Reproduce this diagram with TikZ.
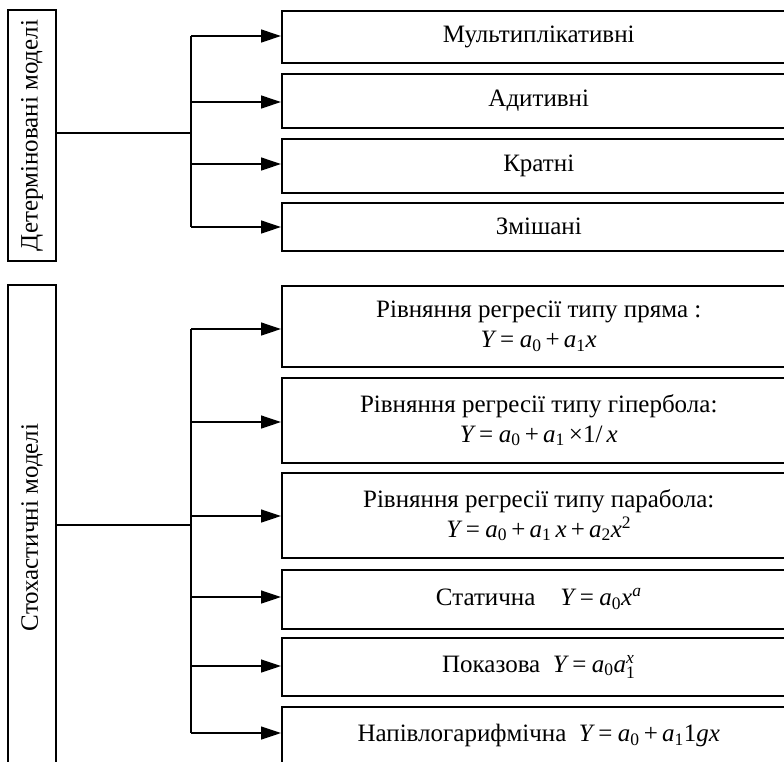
\documentclass[tikz,border=0pt]{standalone}
\usepackage{amsmath}
\usepackage{fontspec}
\setmainfont{Liberation Serif}
\usetikzlibrary{arrows.meta}

% formula pieces set in the text font
\newcommand\tv[1]{\text{\itshape #1}}
\newcommand\tn[1]{\text{\upshape #1}}
\newcommand\vY{\tv{Y}}
\newcommand\va{\tv{a}}
\newcommand\vx{\tv{x}}
\newcommand\eqs{\mathrel{\text{=}}}
\newcommand\pls{\mathbin{\text{+}}}
\newcommand\bodyfont{\fontsize{25}{30}\selectfont\thickmuskip=4mu\medmuskip=3mu}

\begin{document}
\begin{tikzpicture}[x=1pt,y=-1pt,
  framebox/.style={draw, line width=1.5pt, inner sep=0pt},
  leaf/.style={framebox, anchor=north west, minimum width=514pt,
    align=center, font=\bodyfont},
  link/.style={line width=1.3pt},
  arr/.style={link, -{Triangle[length=20pt,width=13pt]}}]
\useasboundingbox (0,0) rectangle (784,761);
\clip (0,0) rectangle (784,761);

% ---------- deterministic models ----------
\node[framebox, minimum width=48pt, minimum height=251pt] (det) at (32,135.5) {};
\node[rotate=90, font=\bodyfont] (detlabel) at (det.center) {Детерміновані моделі};

\node[leaf, minimum height=52pt] (d1) at (281,10)  {Мультиплікативні};
\node[leaf, minimum height=54pt] (d2) at (281,73)  {Адитивні};
\node[leaf, minimum height=54pt] (d3) at (281,138) {Кратні};
\node[leaf, minimum height=48pt] (d4) at (281,202) {Змішані};

\coordinate (dj) at (191,133);
\coordinate (da1) at (191,36);
\coordinate (da2) at (191,102);
\coordinate (da3) at (191,164);
\coordinate (da4) at (191,227);

\draw[link] (det.east |- dj) -- (dj);
\draw[link] (da1) -- (da4);
\foreach \i in {1,...,4}
  \draw[arr] (da\i) -- (da\i -| d\i.west);

% ---------- stochastic models ----------
\node[framebox, minimum width=48pt, minimum height=485pt] (sto) at (32,527.5) {};
\node[rotate=90, font=\bodyfont] (stolabel) at (sto.center) {Стохастичні моделі};

\node[leaf, minimum height=81pt] (s1) at (281,285)
  {Рівняння регресії типу пряма :\\
   $\vY \eqs \va_{\tn{0}} \pls \va_{\tn{1}}\vx$};
\node[leaf, minimum height=85pt] (s2) at (281,377)
  {Рівняння регресії типу гіпербола:\\
   $\vY \eqs \va_{\tn{0}} \pls \va_{\tn{1}}\,\text{×}\tn{1/}\,\vx$};
\node[leaf, minimum height=85pt] (s3) at (281,472)
  {Рівняння регресії типу парабола:\\
   $\vY \eqs \va_{\tn{0}} \pls \va_{\tn{1}}\,\vx \pls \va_{\tn{2}}\vx^{\tn{2}}$};
\node[leaf, minimum height=59pt] (s4) at (281,569)
  {Статична\quad $\vY \eqs \va_{\tn{0}}\vx^{\tv{a}}$};
\node[leaf, minimum height=58pt] (s5) at (281,637)
  {Показова\ \ $\vY \eqs \va_{\tn{0}}\va_{\tn{1}}^{\vx}$};
\node[leaf, minimum height=58pt] (s6) at (281,706)
  {Напівлогарифмічна\ \ $\vY \eqs \va_{\tn{0}} \pls \va_{\tn{1}}\tn{1}\tv{gx}$};

\coordinate (sj) at (191,525);
\coordinate (sa1) at (191,329);
\coordinate (sa2) at (191,422);
\coordinate (sa3) at (191,516);
\coordinate (sa4) at (191,597);
\coordinate (sa5) at (191,666);
\coordinate (sa6) at (191,733);

\draw[link] (sto.east |- sj) -- (sj);
\draw[link] (sa1) -- (sa6);
\foreach \i in {1,...,6}
  \draw[arr] (sa\i) -- (sa\i -| s\i.west);
\end{tikzpicture}
\end{document}
